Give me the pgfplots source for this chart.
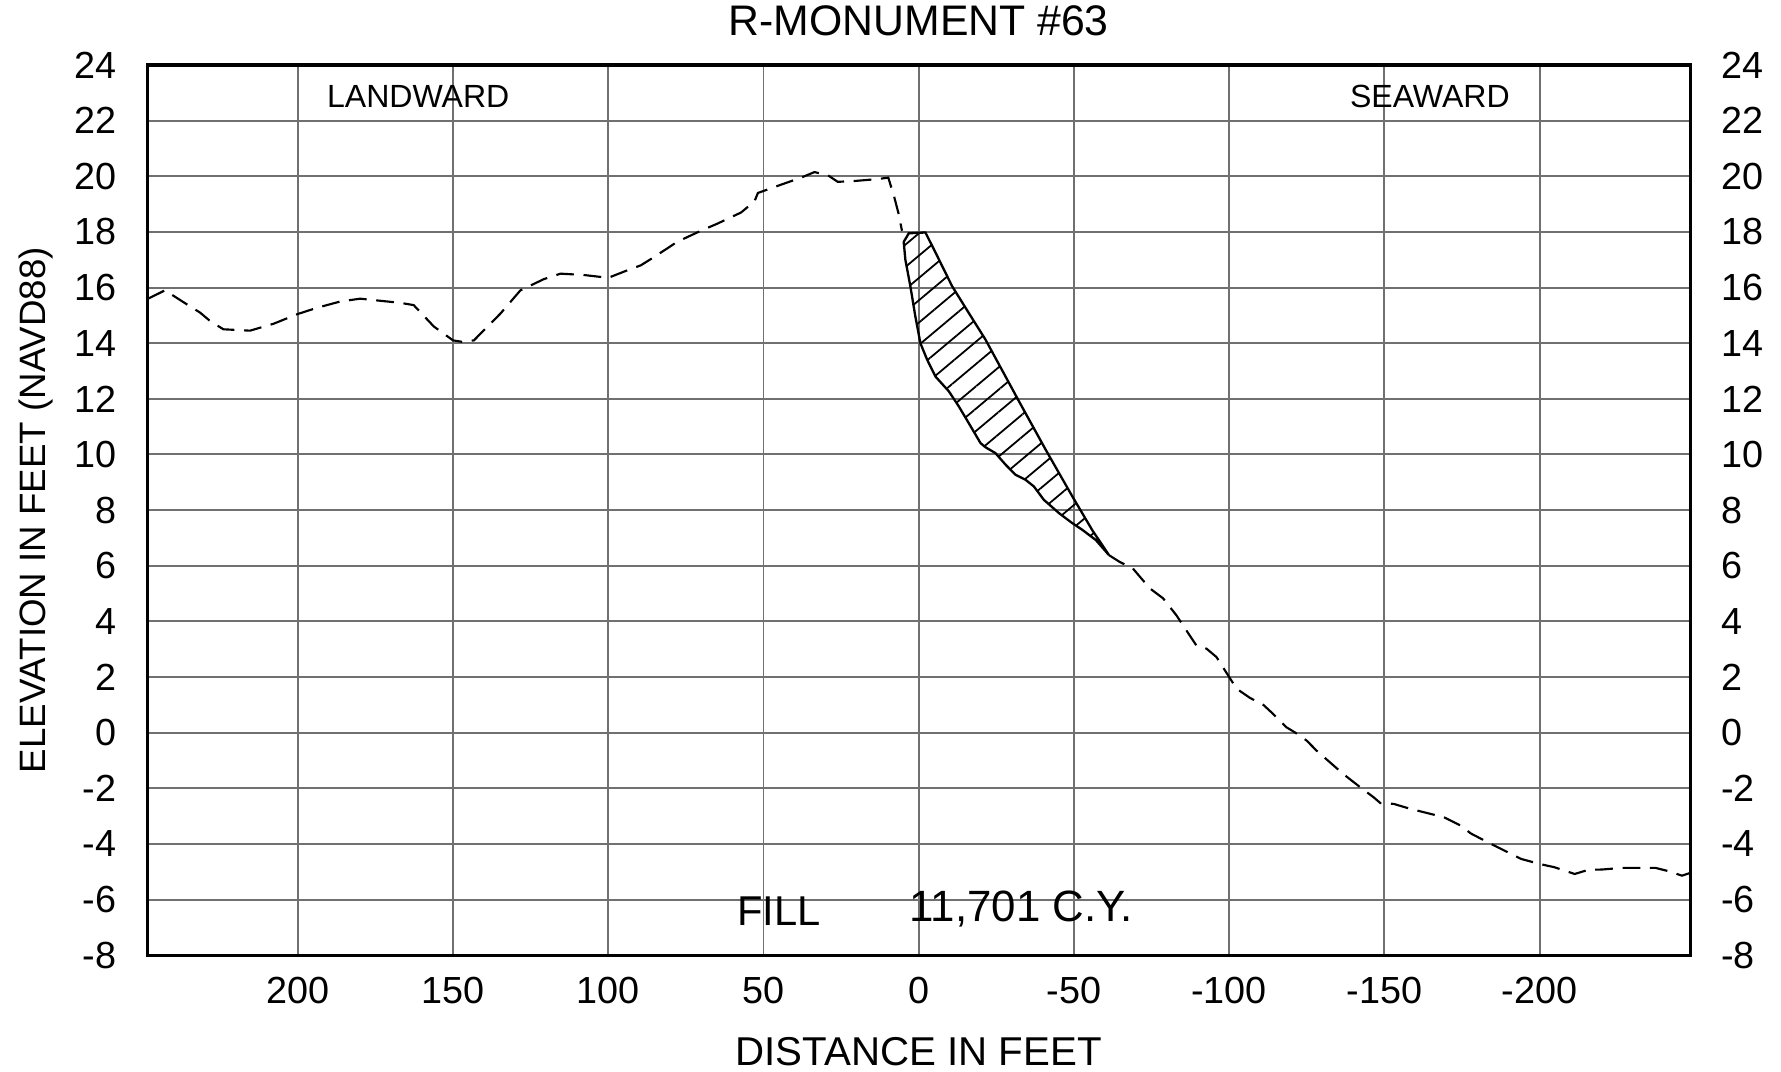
\documentclass[border=0pt]{standalone}
\usepackage{fontspec}
\setmainfont{Liberation Sans}
\usepackage{pgfplots}
\pgfplotsset{compat=1.18}
\usetikzlibrary{patterns.meta}
\definecolor{gridgray}{HTML}{707070}

\begin{document}
\begin{tikzpicture}
\begin{axis}[name=ax, scale only axis, width=433.1pt, height=249.9pt,
  x dir=reverse, xmin=-248.5, xmax=248.5, ymin=-8, ymax=24,
  xtick={-200,-150,...,200}, ytick={-8,-6,...,24},
  grid=major, grid style={gridgray, line width=0.55pt},
  major tick length=0pt,
  axis line style={black, line width=0.9pt},
  tick label style={font=\fontsize{10.6}{12}\selectfont},
  /pgf/number format/assume math mode=true,
  xticklabel style={anchor=center, yshift=-10.0pt},
  yticklabel style={anchor=east, xshift=-5.2pt},
  clip=false]

% existing profile, landward part
\addplot[black, line width=0.6pt, dash pattern=on 5pt off 2.7pt, mark=none] coordinates {
(248.2,15.6) (242.8,15.9) (240,15.7) (235.8,15.4) (231.5,15.1) (228.3,14.8) (224,14.5)
(215.4,14.45) (207.8,14.7) (200,15.05) (193.9,15.27) (186.3,15.5) (179.9,15.6) (167,15.45)
(162.7,15.37) (156.2,14.6) (150,14.1) (147.1,14.05) (143.3,14.1) (134.7,15.07) (128.3,15.9)
(120.8,16.3) (115.4,16.5) (107.8,16.45) (100,16.35) (94.3,16.6) (89.5,16.8) (85.2,17.1)
(77.7,17.65) (70.2,18.04) (64.8,18.3) (57.2,18.7) (52.9,19.1) (51.8,19.4) (44.3,19.7)
(37.9,19.95) (33.6,20.15) (29.3,20.04) (26.1,19.8) (20.7,19.83) (13.2,19.9) (9.8,19.95)
(7.9,19.26) (6.45,18.64) (5.4,18.04)
};

% existing profile, seaward part
\addplot[black, line width=0.6pt, dash pattern=on 5pt off 2.7pt, mark=none] coordinates {
(-61.3,6.38) (-64.7,6.14) (-69,5.9) (-72.2,5.48) (-74.4,5.19) (-78.7,4.83) (-83,4.22)
(-86.2,3.68) (-89.4,3.14) (-92.7,3.02) (-95.9,2.72) (-100,2.0) (-102.4,1.58) (-106.7,1.25)
(-111,1.0) (-114.2,0.67) (-118.5,0.19) (-122.8,-0.1) (-125,-0.29) (-128.2,-0.65)
(-132.5,-1.07) (-136.8,-1.49) (-142.2,-1.96) (-146.5,-2.32) (-148.7,-2.53) (-153,-2.56)
(-158.4,-2.74) (-164.9,-2.92) (-169.2,-3.04) (-174.6,-3.34) (-177.8,-3.62) (-183.3,-3.94)
(-188.7,-4.24) (-194.1,-4.54) (-200,-4.72) (-204.9,-4.84) (-211.3,-5.08) (-215.7,-4.93)
(-220,-4.92) (-226.5,-4.86) (-230.8,-4.86) (-237.3,-4.86) (-241.6,-4.98) (-245.9,-5.14)
(-248.3,-5.05)
};

% fill area (design minus existing)
\addplot[draw=black, line width=0.65pt, mark=none,
  pattern={Lines[angle=40, distance=4.8pt, line width=0.5pt]}] coordinates {
(4.84,17.64) (4.3,17.0) (2.7,16.05) (1.1,14.97) (-0.54,14.0) (-2.7,13.41) (-5.4,12.8)
(-9.7,12.27) (-12.9,11.73) (-16.1,11.13) (-19.9,10.41) (-21.5,10.26) (-24.7,10.05)
(-28.0,9.63) (-31.2,9.27) (-34.4,9.09) (-37.1,8.85) (-40.3,8.37) (-45.2,7.89) (-49.5,7.53)
(-52.7,7.29) (-57.0,6.93) (-61.3,6.38) (-55.9,7.28) (-49.5,8.49) (-40.9,10.17)
(-32.3,11.91) (-21.5,14.13) (-16.1,15.09) (-10.75,16.05) (-5.4,17.26) (-2.15,17.98)
(3.2,17.95)
} -- cycle;

\node[font=\fontsize{9}{11}\selectfont, anchor=base west, inner sep=0pt] at (axis cs:190.8,22.46) {LANDWARD};
\node[font=\fontsize{9}{11}\selectfont, anchor=base west, inner sep=0pt] at (axis cs:-138.7,22.46) {SEAWARD};
\node[font=\fontsize{11.7}{14}\selectfont, anchor=base west, inner sep=0pt] at (axis cs:58.6,-6.93) {FILL};
\node[font=\fontsize{12.3}{14}\selectfont, anchor=base west, inner sep=0pt] at (axis cs:3.1,-6.80) {11,701 C.Y.};
\node[font=\fontsize{12}{14}\selectfont, anchor=base, inner sep=0pt] at ([yshift=8.2pt]rel axis cs:0.5,1) {R-MONUMENT \#63};
\node[font=\fontsize{11.3}{14}\selectfont, anchor=base, inner sep=0pt] at ([yshift=-31.0pt]rel axis cs:0.5,0) {DISTANCE IN FEET};
\node[font=\fontsize{10.3}{13}\selectfont, anchor=base, inner sep=0pt, rotate=90] at ([xshift=-28.6pt]rel axis cs:0,0.5) {ELEVATION IN FEET (NAVD88)};
\end{axis}

\begin{axis}[scale only axis, width=433.1pt, height=249.9pt,
  xmin=-248.5, xmax=248.5, ymin=-8, ymax=24,
  axis x line=none, axis y line*=right,
  ytick={-8,-6,...,24},
  major tick length=0pt,
  axis line style={draw=none},
  tick label style={font=\fontsize{10.6}{12}\selectfont},
  /pgf/number format/assume math mode=true,
  yticklabel style={anchor=west, xshift=5.2pt}]
\addplot[draw=none, mark=none] coordinates {(0,0) (1,1)};
\end{axis}

\pgfresetboundingbox
\path[use as bounding box] ([shift={(-41.35pt,-32.6pt)}]ax.south west) rectangle ([shift={(25.5pt,18.25pt)}]ax.north east);
\end{tikzpicture}
\end{document}
